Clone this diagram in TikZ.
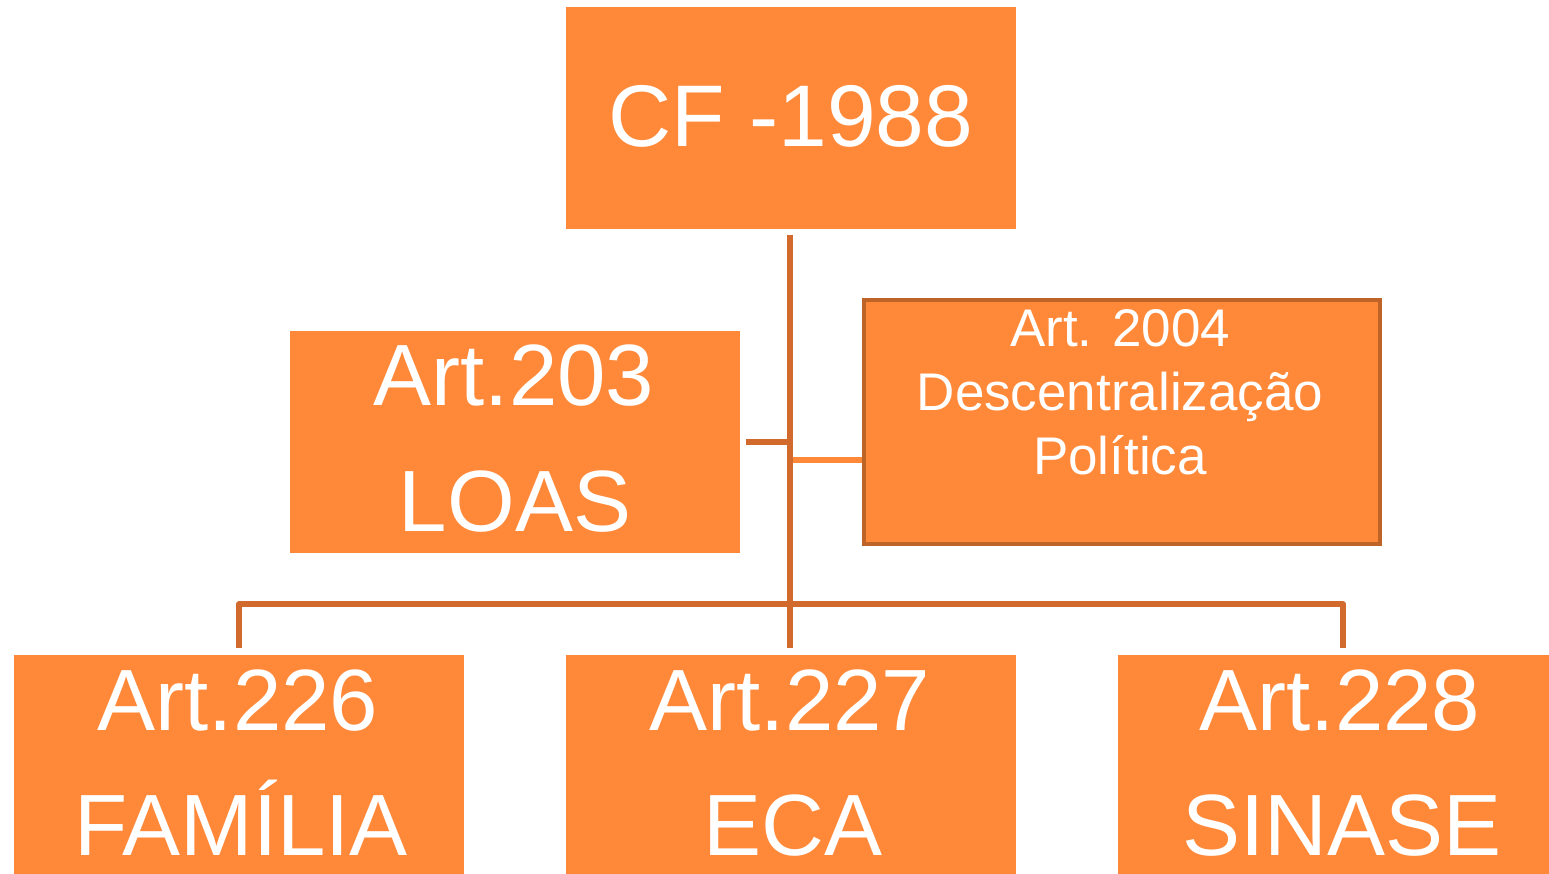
\documentclass[tikz,border=0pt]{standalone}
\usepackage{fontspec}
\setmainfont{Liberation Sans}
\definecolor{boxfill}{RGB}{255,137,57}
\definecolor{linecol}{RGB}{210,106,45}
\definecolor{edgecol}{RGB}{190,100,40}
\tikzset{
  box/.style={rectangle, fill=boxfill, draw=none, inner sep=0pt, anchor=north west},
  boxedge/.style={rectangle, fill=boxfill, draw=edgecol, line width=4pt, inner sep=0pt, anchor=north west},
  conn/.style={draw=linecol, line width=5.5pt},
  lconn/.style={draw=boxfill, line width=5.5pt},
  big/.style={text=white, anchor=base, font=\fontsize{87}{100}\selectfont},
  huge/.style={text=white, anchor=base, font=\fontsize{87.5}{100}\selectfont},
  small/.style={text=white, anchor=base, font=\fontsize{53}{60}\selectfont, inner sep=0pt},
}
\begin{document}
\begin{tikzpicture}[x=1pt,y=-1pt]
\useasboundingbox (0,0) rectangle (1549,873);
% boxes
\node[box, minimum width=450pt, minimum height=222pt] (cf) at (566,7) {};
\node[box, minimum width=450pt, minimum height=222pt] (loas) at (290,331) {};
\node[boxedge, minimum width=516pt, minimum height=244pt] (art2004) at (862,298) {};
\node[box, minimum width=450pt, minimum height=222pt] (fam) at (14,655) {};
\node[box, minimum width=450pt, minimum height=222pt] (eca) at (566,655) {};
\node[box, minimum width=431pt, minimum height=222pt] (sin) at (1118,655) {};
% coordinates for connectors
\coordinate (ttop) at (790,235);
\coordinate (tbot) at (790,648);
\coordinate (bl) at (239,604);
\coordinate (br) at (1343,604);
\coordinate (bld) at (239,648);
\coordinate (brd) at (1343,648);
\coordinate (lj) at (790,442);
\coordinate (le) at (746,442);
\coordinate (rj) at (793,460);
\coordinate (re) at (862,460);
% connectors
\draw[conn] (ttop) -- (tbot);
\draw[conn, line join=round] (bld) -- (bl) -- (br) -- (brd);
\draw[conn] (le) -- (lj);
\draw[lconn] (rj) -- (re);
% texts
\node[huge] (tcf) at (791,146) {CF -1988};
\node[big] (tl1) at (514,405) {Art.203};
\node[big] (tl2) at (515,531) {LOAS};
\node[small] (ta1) at (1120,346) {Art. 2004};
\node[small] (ta2) at (1120,410) {Descentralização};
\node[small] (ta3) at (1120,474) {Política};
\node[big] (tf1) at (238,730) {Art.226};
\node[big] (tf2) at (241,855) {FAMÍLIA};
\node[big] (te1) at (790,730) {Art.227};
\node[big] (te2) at (793,855) {ECA};
\node[big] (ts1) at (1340,730) {Art.228};
\node[big] (ts2) at (1342,855) {SINASE};
\end{tikzpicture}
\end{document}
